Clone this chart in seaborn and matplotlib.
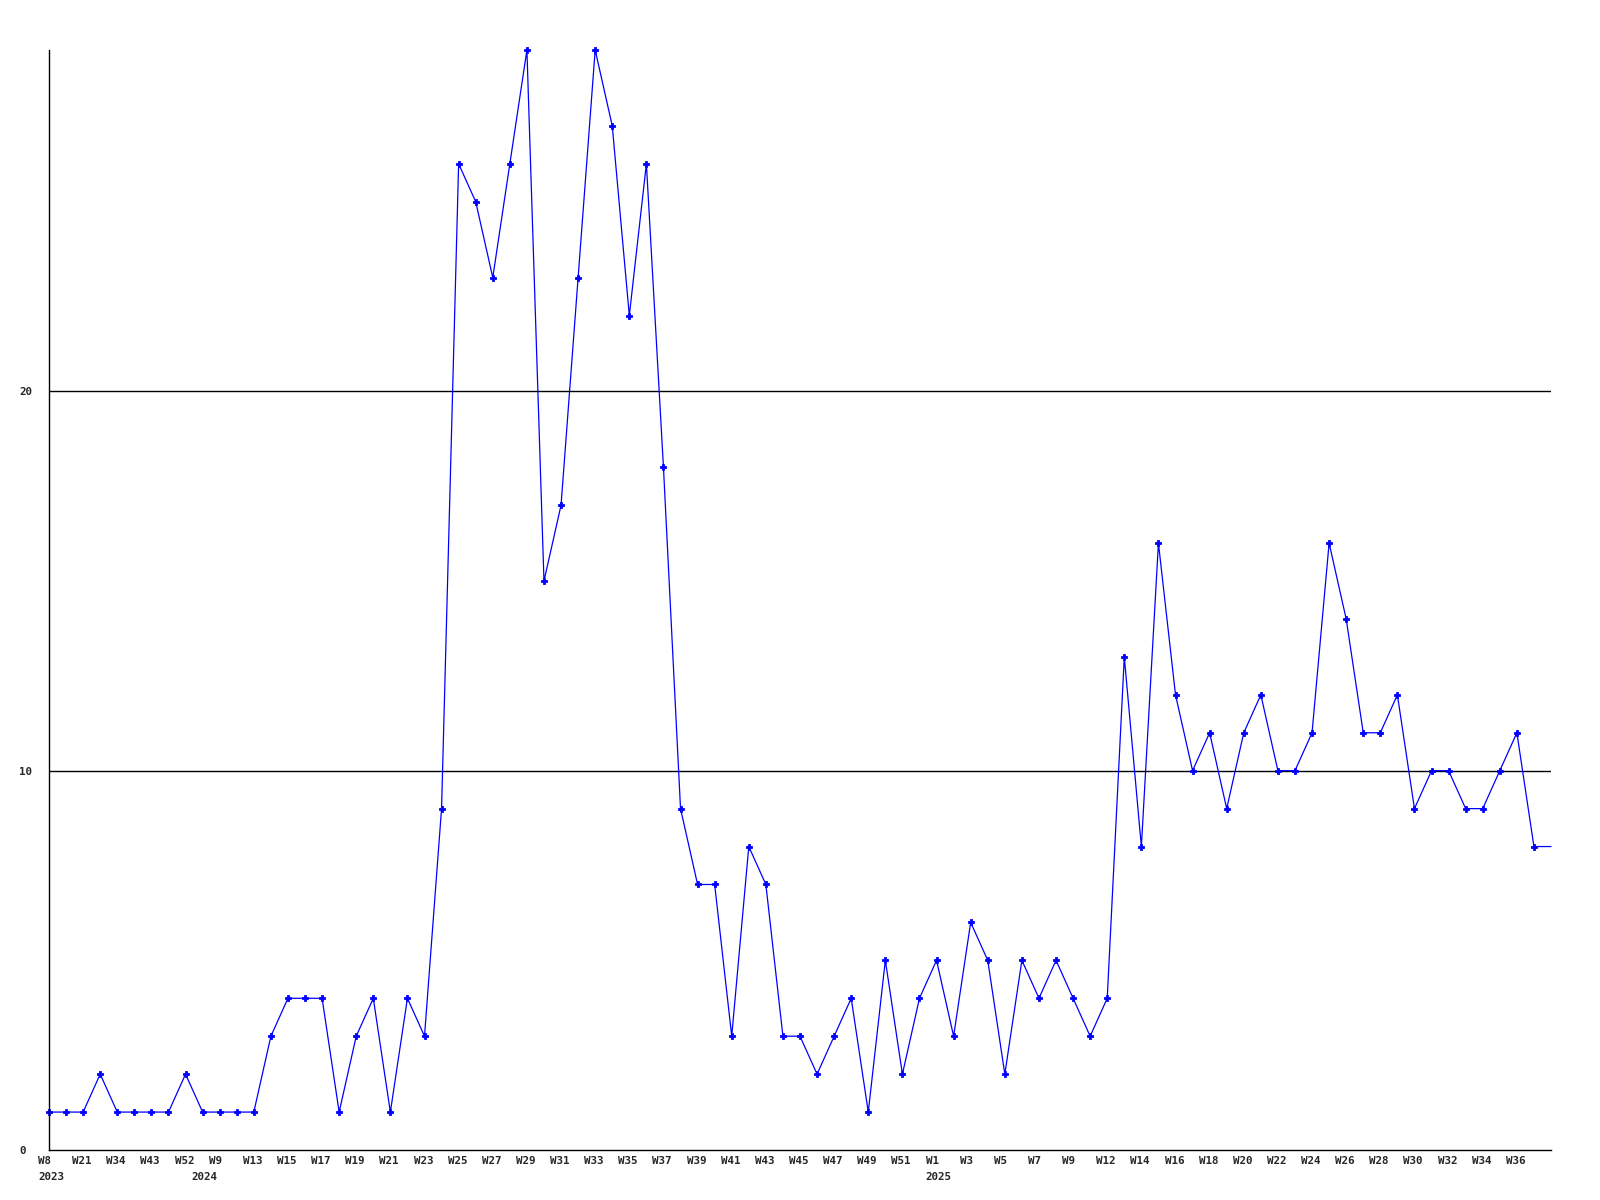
import pandas as pd
import numpy as np
import matplotlib
matplotlib.use('Agg')
import matplotlib.pyplot as plt
import matplotlib.transforms as mtransforms
import seaborn as sns

# weekly counts, one per point (evenly spaced on the category axis)
counts = [1, 1, 1, 2, 1, 1, 1, 1, 2, 1,
          1, 1, 1, 3, 4, 4, 4, 1, 3, 4,
          1, 4, 3, 9, 26, 25, 23, 26, 29, 15,
          17, 23, 29, 27, 22, 26, 18, 9, 7, 7,
          3, 8, 7, 3, 3, 2, 3, 4, 1, 5,
          2, 4, 5, 3, 6, 5, 2, 5, 4, 5,
          4, 3, 4, 13, 8, 16, 12, 10, 11, 9,
          11, 12, 10, 10, 11, 16, 14, 11, 11, 12,
          9, 10, 10, 9, 9, 10, 11, 8, 8]

# labels shown under every second point
week_labels = ['W8', 'W21', 'W34', 'W43', 'W52', 'W9', 'W13', 'W15', 'W17', 'W19',
               'W21', 'W23', 'W25', 'W27', 'W29', 'W31', 'W33', 'W35', 'W37', 'W39',
               'W41', 'W43', 'W45', 'W47', 'W49', 'W51', 'W1', 'W3', 'W5', 'W7',
               'W9', 'W12', 'W14', 'W16', 'W18', 'W20', 'W22', 'W24', 'W26', 'W28',
               'W30', 'W32', 'W34', 'W36']

year_labels = ['2023', '2024', '2025']
year_points = [0, 10, 52]

y_ticks = [0, 10, 20]

df = pd.DataFrame({'idx': np.arange(len(counts)), 'count': counts})

sns.set_style('white')
plt.rcParams['font.family'] = ['DejaVu Sans Mono']

fig = plt.figure(figsize=(16, 12), dpi=100)
ax = fig.add_axes([49 / 1600, 1 - 1150 / 1200, 1502 / 1600, 1100 / 1200])

sns.lineplot(data=df, x='idx', y='count', ax=ax, color='#0000ff', linewidth=0.9,
             marker='P', markersize=4.2, markeredgewidth=0.6, markeredgecolor='#0000ff',
             markevery=list(range(len(counts) - 1)), clip_on=False)

ax.set_xlim(0, len(counts) - 1)
ax.set_ylim(0, 29)

for v in y_ticks[1:]:
    ax.axhline(v, color='black', linewidth=1.0, zorder=1)

for s in ['top', 'right']:
    ax.spines[s].set_visible(False)
for s in ['left', 'bottom']:
    ax.spines[s].set_color('black')
    ax.spines[s].set_linewidth(1.0)

ax.set_xlabel('')
ax.set_ylabel('')

ax.set_yticks(y_ticks)
ax.set_yticklabels([str(v) for v in y_ticks], fontsize=7.8, fontweight='bold')
ax.tick_params(axis='y', length=0, pad=21.5)
for lab in ax.get_yticklabels():
    lab.set_horizontalalignment('left')

ax.set_xticks(range(0, 2 * len(week_labels), 2))
ax.set_xticklabels(week_labels, fontsize=7.8, fontweight='bold')
ax.tick_params(axis='x', length=0, pad=4)
shift = mtransforms.ScaledTranslation(-11 / 100, 0, fig.dpi_scale_trans)
for lab in ax.get_xticklabels():
    lab.set_horizontalalignment('left')
    lab.set_transform(lab.get_transform() + shift)

# second row with the years
for name, p in zip(year_labels, year_points):
    dx = -28 if name == '2024' else -11
    tr = ax.get_xaxis_transform() + mtransforms.ScaledTranslation(dx / 100, -27 / 100, fig.dpi_scale_trans)
    ax.text(p, 0, name, transform=tr, ha='left', va='center',
            fontsize=7.8, fontweight='bold')

fig.savefig('out.png', dpi=100, facecolor='white')
